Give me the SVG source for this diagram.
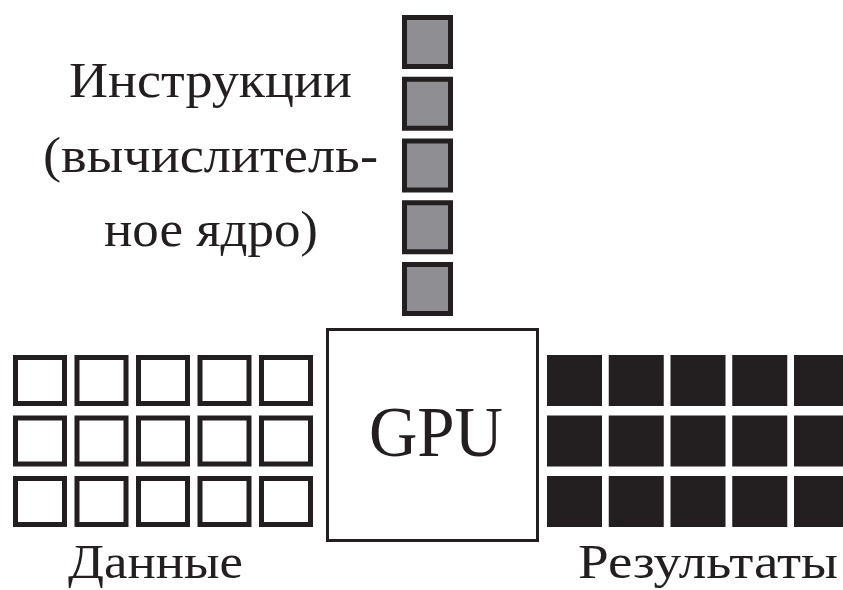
<svg xmlns="http://www.w3.org/2000/svg" width="843" height="590" viewBox="0 0 843 590">
<style>
.t{font-family:"Liberation Serif","Times New Roman",serif;fill:#231f20}
.in{fill:#ffffff;stroke:#231f20;stroke-width:5}
.ins{fill:#8f8f93;stroke:#231f20;stroke-width:5}
.out{fill:#231f20}
</style>
<rect width="843" height="590" fill="#ffffff"/>
<g id="instructions">
<rect class="ins" x="404.5" y="17.5" width="46" height="49"/>
<rect class="ins" x="404.5" y="79.25" width="46" height="49"/>
<rect class="ins" x="404.5" y="141" width="46" height="49"/>
<rect class="ins" x="404.5" y="202.75" width="46" height="49"/>
<rect class="ins" x="404.5" y="264.5" width="46" height="49"/>
<text class="t" x="69" y="97" font-size="51" textLength="283" lengthAdjust="spacingAndGlyphs">Инструкции</text>
<text class="t" x="43" y="172" font-size="51" textLength="335" lengthAdjust="spacingAndGlyphs">(вычислитель-</text>
<text class="t" x="104" y="246" font-size="51" textLength="214" lengthAdjust="spacingAndGlyphs">ное ядро)</text>
</g>
<g id="gpu">
<rect x="327.5" y="329.5" width="210" height="211" fill="#ffffff" stroke="#231f20" stroke-width="3"/>
<text class="t" x="369" y="456" font-size="72" textLength="134" lengthAdjust="spacingAndGlyphs">GPU</text>
</g>
<g id="data">
<rect class="in" x="15.5" y="357.5" width="49" height="46"/>
<rect class="in" x="77" y="357.5" width="49" height="46"/>
<rect class="in" x="138.5" y="357.5" width="49" height="46"/>
<rect class="in" x="200" y="357.5" width="49" height="46"/>
<rect class="in" x="261.5" y="357.5" width="49" height="46"/>
<rect class="in" x="15.5" y="418" width="49" height="46"/>
<rect class="in" x="77" y="418" width="49" height="46"/>
<rect class="in" x="138.5" y="418" width="49" height="46"/>
<rect class="in" x="200" y="418" width="49" height="46"/>
<rect class="in" x="261.5" y="418" width="49" height="46"/>
<rect class="in" x="15.5" y="478.5" width="49" height="46"/>
<rect class="in" x="77" y="478.5" width="49" height="46"/>
<rect class="in" x="138.5" y="478.5" width="49" height="46"/>
<rect class="in" x="200" y="478.5" width="49" height="46"/>
<rect class="in" x="261.5" y="478.5" width="49" height="46"/>
<text class="t" x="68" y="578" font-size="48" textLength="175" lengthAdjust="spacingAndGlyphs">Данные</text>
</g>
<g id="results">
<rect class="out" x="547" y="355" width="55" height="51"/>
<rect class="out" x="608.75" y="355" width="55" height="51"/>
<rect class="out" x="670.5" y="355" width="55" height="51"/>
<rect class="out" x="732.25" y="355" width="55" height="51"/>
<rect class="out" x="794" y="355" width="55" height="51"/>
<rect class="out" x="547" y="415.5" width="55" height="51"/>
<rect class="out" x="608.75" y="415.5" width="55" height="51"/>
<rect class="out" x="670.5" y="415.5" width="55" height="51"/>
<rect class="out" x="732.25" y="415.5" width="55" height="51"/>
<rect class="out" x="794" y="415.5" width="55" height="51"/>
<rect class="out" x="547" y="476" width="55" height="51"/>
<rect class="out" x="608.75" y="476" width="55" height="51"/>
<rect class="out" x="670.5" y="476" width="55" height="51"/>
<rect class="out" x="732.25" y="476" width="55" height="51"/>
<rect class="out" x="794" y="476" width="55" height="51"/>
<text class="t" x="578" y="578" font-size="48" textLength="260" lengthAdjust="spacingAndGlyphs">Результаты</text>
</g>
<g id="connectors"/>
</svg>
